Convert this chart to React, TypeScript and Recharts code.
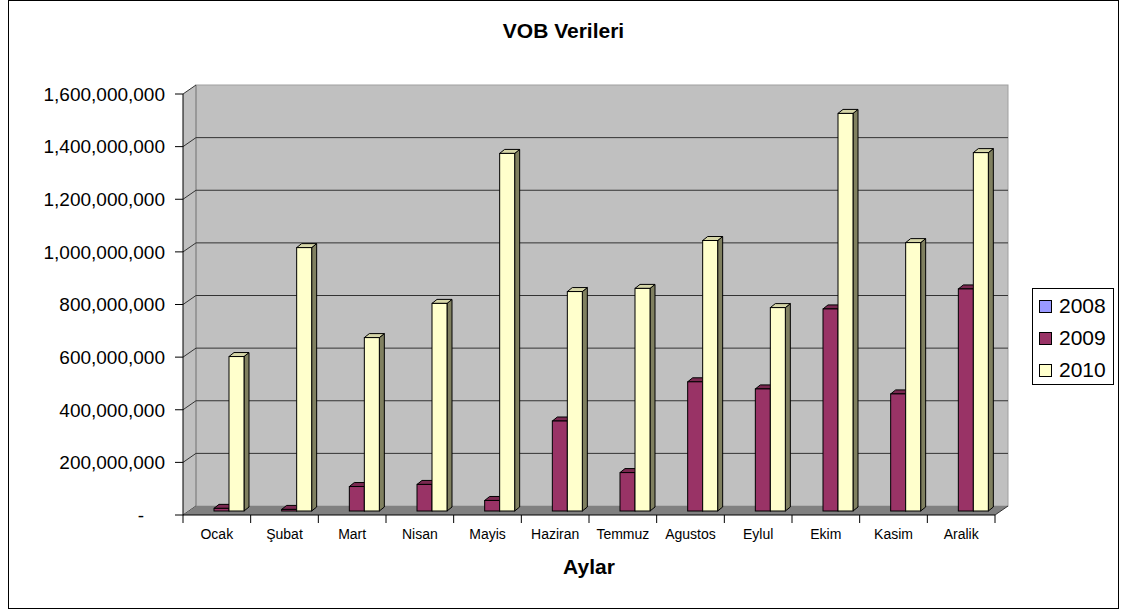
import { Bar, BarChart, Legend, XAxis, YAxis } from "recharts"

// aylık VOB işlem hacmi (TL)
const months = ["Ocak", "Şubat", "Mart", "Nisan", "Mayis", "Haziran", "Temmuz", "Agustos", "Eylul", "Ekim", "Kasim", "Aralik"]
const values2008 = [0, 0, 0, 0, 0, 0, 0, 0, 0, 0, 0, 0]
const values2009 = [10e6, 6e6, 93e6, 101e6, 40e6, 342e6, 146e6, 491e6, 464e6, 768e6, 445e6, 844e6]
const values2010 = [587e6, 1001e6, 659e6, 789e6, 1359e6, 834e6, 846e6, 1028e6, 773e6, 1511e6, 1020e6, 1362e6]
const yTicks = [0, 200e6, 400e6, 600e6, 800e6, 1000e6, 1200e6, 1400e6, 1600e6]
const Y_MAX = 1600e6

const data = months.map((month, i) => ({
  month,
  y2008: values2008[i],
  y2009: values2009[i],
  y2010: values2010[i],
}))

const FONT = '"Liberation Sans", Arial, sans-serif'

// yerleşim
const W = 1111
const H = 608
const PL = 175
const PT = 94
const PB = 515
const PR = 987
const X_AXIS_H = 30
const DX = 13
const DY = 9
const BAND = (PR - PL) / months.length

const yOf = (v: number) => PB - (v / Y_MAX) * (PB - PT)

// arka duvar, sol duvar ve zemin
function Walls() {
  return (
    <svg width={W} height={H} style={{ position: "absolute", left: 0, top: 0 }}>
      <polygon
        points={`${PL},${PT} ${PL + DX},${PT - DY} ${PL + DX},${PB - DY} ${PL},${PB}`}
        fill="#C0C0C0"
      />
      <rect x={PL + DX} y={PT - DY} width={PR - PL} height={PB - PT} fill="#C0C0C0" stroke="#A0A0A0" />
      <line x1={PL + DX} y1={PT - DY} x2={PL + DX} y2={PB - DY} stroke="#808080" />
      {yTicks
        .filter((t) => t > 0 && t < Y_MAX)
        .map((t) => (
          <line key={t} x1={PL + DX} y1={yOf(t) - DY} x2={PR + DX} y2={yOf(t) - DY} stroke="#333" />
        ))}
      {yTicks.map((t) => (
        <line key={`d${t}`} x1={PL} y1={yOf(t)} x2={PL + DX} y2={yOf(t) - DY} stroke="#333" />
      ))}
      <polygon
        points={`${PL},${PB} ${PR},${PB} ${PR + DX},${PB - DY} ${PL + DX},${PB - DY}`}
        fill="#808080"
      />
      <line x1={PR} y1={PB} x2={PR + DX} y2={PB - DY} stroke="#333" />
    </svg>
  )
}

const make3D = (front: string, top: string, side: string) => (props: any) => {
  const { x, y, width, height } = props
  if (!height || height < 0.5) return <g />
  const x0 = x + 5
  const y0 = y - 4
  const d = 5
  const e = 4
  return (
    <g stroke="#000" strokeWidth={1}>
      <polygon
        points={`${x0 + width},${y0} ${x0 + width + d},${y0 - e} ${x0 + width + d},${y0 + height - e} ${x0 + width},${y0 + height}`}
        fill={side}
      />
      <polygon points={`${x0},${y0} ${x0 + d},${y0 - e} ${x0 + width + d},${y0 - e} ${x0 + width},${y0}`} fill={top} />
      <rect x={x0} y={y0} width={width} height={height} fill={front} />
    </g>
  )
}

const shape2008 = make3D("#9999FF", "#7777CC", "#555599")
const shape2009 = make3D("#993366", "#7A2850", "#66223F")
const shape2010 = make3D("#FFFFCC", "#D6D6A8", "#808060")

const fmt = (v: number) => (v === 0 ? "-" : v.toLocaleString("en-US"))

function YTick(props: any) {
  const { x, y, payload } = props
  const v = payload.value
  return (
    <text x={v === 0 ? x - 21 : x} y={y} dy="0.36em" textAnchor="end" fontSize={19} fontFamily={FONT} fill="#000">
      {fmt(v)}
    </text>
  )
}

function XTick(props: any) {
  const { x, payload, index } = props
  return (
    <g>
      <line x1={x - BAND / 2} y1={PB} x2={x - BAND / 2} y2={PB + 8} stroke="#000" />
      {index === months.length - 1 && <line x1={x + BAND / 2} y1={PB} x2={x + BAND / 2} y2={PB + 8} stroke="#000" />}
      <text x={x} y={539} textAnchor="middle" fontSize={14} fontFamily={FONT} fill="#000">
        {payload.value}
      </text>
    </g>
  )
}

function LegendBox(props: any) {
  const items = props.payload || []
  return (
    <div
      style={{
        width: 82,
        height: 97,
        boxSizing: "border-box",
        border: "1px solid #000",
        background: "#fff",
        paddingTop: 1,
        fontFamily: FONT,
      }}
    >
      {items.map((it: any) => (
        <div key={it.value} style={{ height: 32, display: "flex", alignItems: "center" }}>
          <span
            style={{
              display: "inline-block",
              width: 13,
              height: 13,
              boxSizing: "border-box",
              border: "1px solid #000",
              background: it.color,
              marginLeft: 6,
              marginRight: 7,
            }}
          />
          <span style={{ fontSize: 21, color: "#000", lineHeight: "24px" }}>{it.value}</span>
        </div>
      ))}
    </div>
  )
}

export default function App() {
  return (
    <div
      style={{
        position: "absolute",
        left: 8,
        top: 0,
        width: W,
        height: H + 1,
        boxSizing: "border-box",
        border: "1px solid #000",
        background: "#fff",
        fontFamily: FONT,
      }}
    >
      <div style={{ position: "absolute", left: -1, top: -1, width: W, height: H }}>
        <Walls />
        <div
          style={{
            position: "absolute",
            left: 0,
            top: 19,
            width: W,
            textAlign: "center",
            fontSize: 21,
            lineHeight: "24px",
            fontWeight: "bold",
          }}
        >
          VOB Verileri
        </div>
        <div style={{ position: "absolute", left: 0, top: 0 }}>
          <BarChart
            width={W}
            height={H}
            data={data}
            margin={{ top: PT, right: W - PR, bottom: H - PB - X_AXIS_H, left: 0 }}
            barSize={15}
            barGap={0}
          >
            <XAxis
              dataKey="month"
              height={X_AXIS_H}
              interval={0}
              axisLine={{ stroke: "#000" }}
              tickLine={false}
              tick={<XTick />}
              label={{ value: "Aylar", position: "bottom", offset: 14, fontSize: 21, fontWeight: "bold", fill: "#000", fontFamily: FONT }}
            />
            <YAxis
              width={PL}
              domain={[0, Y_MAX]}
              ticks={yTicks}
              interval={0}
              axisLine={{ stroke: "#000" }}
              tickLine={{ stroke: "#000" }}
              tickSize={8}
              tickMargin={10}
              tick={<YTick />}
            />
            <Legend
              layout="vertical"
              align="center"
              verticalAlign="middle"
              wrapperStyle={{ left: 1024, top: 288, width: 82, height: 97 }}
              content={<LegendBox />}
            />
            <Bar dataKey="y2008" name="2008" fill="#9999FF" shape={shape2008} isAnimationActive={false} />
            <Bar dataKey="y2009" name="2009" fill="#993366" shape={shape2009} isAnimationActive={false} />
            <Bar dataKey="y2010" name="2010" fill="#FFFFCC" shape={shape2010} isAnimationActive={false} />
          </BarChart>
        </div>
      </div>
    </div>
  )
}
